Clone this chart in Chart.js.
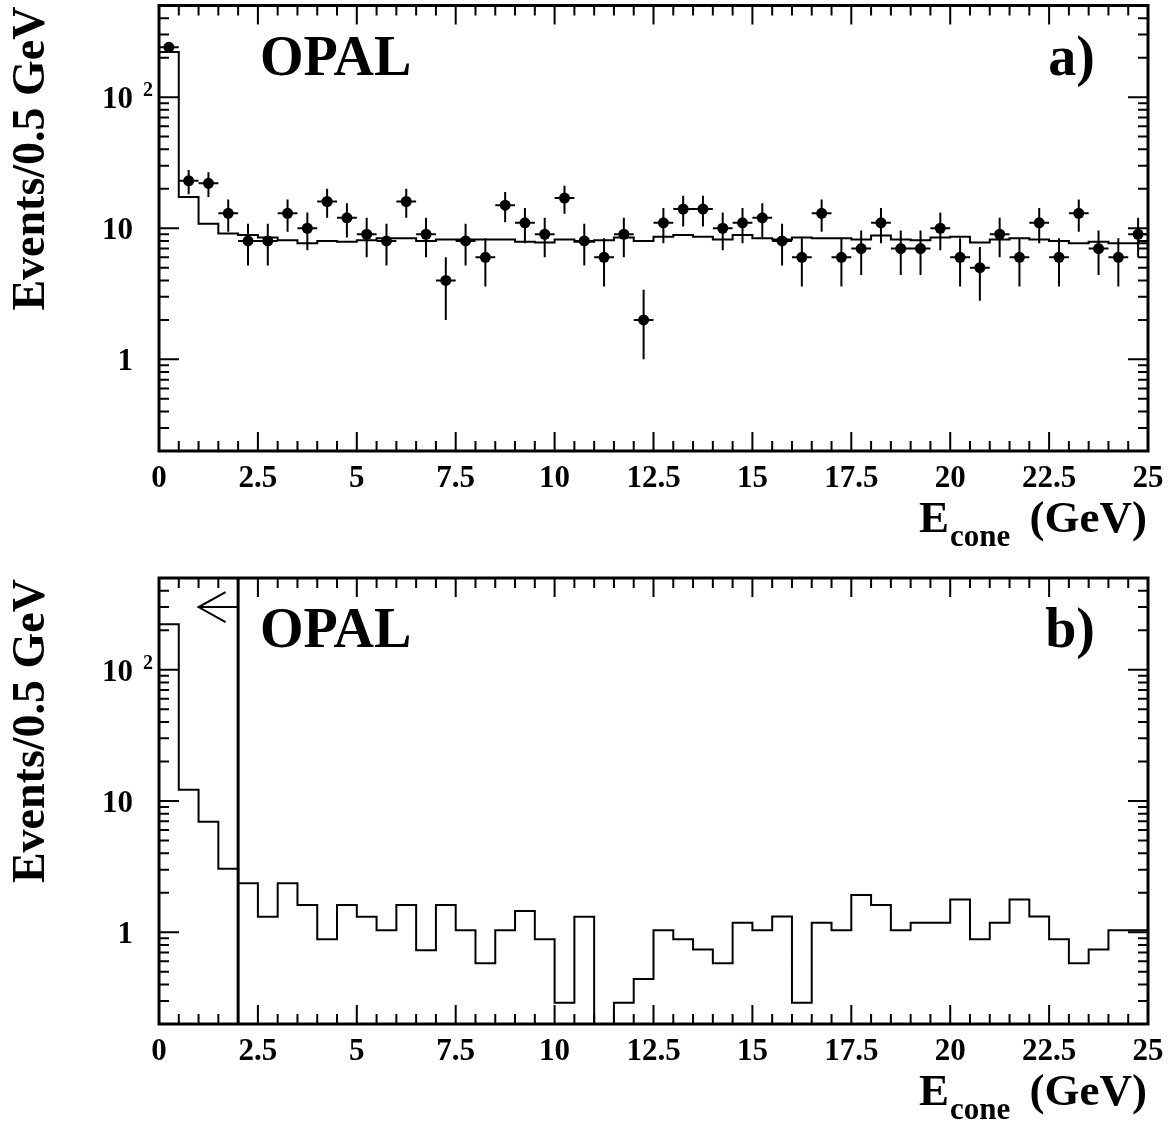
<!DOCTYPE html>
<html>
<head>
<meta charset="utf-8">
<script src="https://cdn.jsdelivr.net/npm/chart.js@4.4.1/dist/chart.umd.min.js"></script>
<style>
  body { margin: 0; background: #fff; }
  canvas { display: block; }
</style>
</head>
<body>
<canvas id="panelA" width="1169" height="564"></canvas>
<canvas id="panelB" width="1169" height="564"></canvas>
<script>
// bin edges of E_cone (GeV), 0.5 GeV bins
var binEdges = [0, 0.5, 1, 1.5, 2, 2.5, 3, 3.5, 4, 4.5, 5, 5.5, 6, 6.5, 7, 7.5, 8, 8.5, 9, 9.5,
  10, 10.5, 11, 11.5, 12, 12.5, 13, 13.5, 14, 14.5, 15, 15.5, 16, 16.5, 17, 17.5, 18, 18.5, 19, 19.5,
  20, 20.5, 21, 21.5, 22, 22.5, 23, 23.5, 24, 24.5, 25];

// panel a) data points
var dataA = [240, 23, 22, 13, 8, 8, 13, 10, 16, 12, 9, 8, 16, 9, 4, 8, 6, 15, 11, 9,
  17, 8, 6, 9, 2, 11, 14, 14, 10, 11, 12, 8, 6, 13, 6, 7, 11, 7, 7, 10,
  6, 5, 9, 6, 11, 6, 13, 7, 6, 9];
var errUpA = [15.5, 4.8, 4.7, 3.6, 2.8, 2.8, 3.6, 3.2, 4.0, 3.5, 3.0, 2.8, 4.0, 3.0, 2.0, 2.8, 2.4, 3.9, 3.3, 3.0,
  4.1, 2.8, 2.4, 3.0, 1.4, 3.3, 3.7, 3.7, 3.2, 3.3, 3.5, 2.8, 2.4, 3.6, 2.4, 2.6, 3.3, 2.6, 2.6, 3.2,
  2.4, 2.2, 3.0, 2.4, 3.3, 2.4, 3.6, 2.6, 2.4, 3.0];
var errDownA = [15.5, 4.8, 4.7, 3.6, 2.8, 2.8, 3.6, 3.2, 4.0, 3.5, 3.0, 2.8, 4.0, 3.0, 2.0, 2.8, 2.4, 3.9, 3.3, 3.0,
  4.1, 2.8, 2.4, 3.0, 1.0, 3.3, 3.7, 3.7, 3.2, 3.3, 3.5, 2.8, 2.4, 3.6, 2.4, 2.6, 3.3, 2.6, 2.6, 3.2,
  2.4, 2.2, 3.0, 2.4, 3.3, 2.4, 3.6, 2.6, 2.4, 3.0];

// panel a) simulation histogram
var mcA = [221, 17.3, 10.8, 9.1, 8.9, 8.5, 8.1, 7.7, 8.0, 7.9, 8.1, 8.4, 8.4, 8.0, 8.2, 8.2, 8.2, 8.2, 7.9, 7.8,
  8.2, 7.9, 8.1, 8.5, 8.0, 8.6, 8.9, 8.6, 8.2, 8.9, 8.4, 8.2, 8.5, 8.4, 8.4, 8.2, 8.8, 8.2, 8.1, 8.5,
  8.6, 7.8, 8.2, 8.4, 8.2, 8.0, 7.7, 7.9, 7.7, 7.7];

// panel b) histogram
var mcB = [222, 12.2, 6.95, 3.05, 2.36, 1.31, 2.36, 1.61, 0.885, 1.61, 1.31, 1.035, 1.61, 0.73, 1.61, 1.035, 0.58, 1.035, 1.45, 0.885,
  0.29, 1.31, 0, 0.29, 0.44, 1.035, 0.885, 0.74, 0.58, 1.18, 1.035, 1.32, 0.29, 1.18, 1.035, 1.92, 1.61, 1.035, 1.18, 1.18,
  1.78, 0.885, 1.18, 1.78, 1.32, 0.885, 0.58, 0.74, 1.035, 1.035];

// cut in panel b)
var cutValue = 2;
var arrowTip = 1;
var arrowLevel = 300;

var xTicks = [0, 2.5, 5, 7.5, 10, 12.5, 15, 17.5, 20, 22.5, 25];
var xTickLabels = ['0', '2.5', '5', '7.5', '10', '12.5', '15', '17.5', '20', '22.5', '25'];
var yTicks = [1, 10, 100];
var yTickLabels = [['1', ''], ['10', ''], ['10', '2']];

var serif = '"Liberation Serif", "Times New Roman", serif';

// empty bins can't sit on a log axis: push them below the frame, the line gets clipped
function histPoints(values) {
  return binEdges.map(function (e, i) {
    var v = values[Math.min(i, values.length - 1)];
    return { x: e, y: v > 0 ? v : 0.001 };
  });
}

function centrePoints(values) {
  return values.map(function (v, i) {
    return { x: (binEdges[i] + binEdges[i + 1]) / 2, y: v };
  });
}

var rootFrame = {
  id: 'rootFrame',
  beforeDatasetsDraw: function (chart, args, opts) {
    var ctx = chart.ctx, xs = chart.scales.x, ys = chart.scales.y;
    if (opts.points) {
      ctx.save();
      ctx.strokeStyle = '#000';
      ctx.lineWidth = 2;
      ctx.beginPath();
      opts.points.forEach(function (v, i) {
        var cx = xs.getPixelForValue((binEdges[i] + binEdges[i + 1]) / 2);
        var cy = ys.getPixelForValue(v);
        ctx.moveTo(xs.getPixelForValue(binEdges[i]), cy);
        ctx.lineTo(xs.getPixelForValue(binEdges[i + 1]), cy);
        ctx.moveTo(cx, ys.getPixelForValue(v + opts.errUp[i]));
        ctx.lineTo(cx, ys.getPixelForValue(v - opts.errDown[i]));
      });
      ctx.stroke();
      ctx.restore();
    }
  },
  afterDatasetsDraw: function (chart, args, opts) {
    var ctx = chart.ctx, a = chart.chartArea, xs = chart.scales.x, ys = chart.scales.y;
    ctx.save();
    ctx.strokeStyle = '#000';
    ctx.fillStyle = '#000';

    // cut line and arrow
    if (opts.cut) {
      var px = xs.getPixelForValue(cutValue);
      ctx.lineWidth = 3;
      ctx.beginPath();
      ctx.moveTo(px, a.top);
      ctx.lineTo(px, a.bottom);
      ctx.stroke();
      var tip = xs.getPixelForValue(arrowTip);
      var ay = ys.getPixelForValue(arrowLevel);
      ctx.lineWidth = 2;
      ctx.beginPath();
      ctx.moveTo(px, ay);
      ctx.lineTo(tip, ay);
      ctx.moveTo(tip + 27, ay - 15);
      ctx.lineTo(tip, ay);
      ctx.lineTo(tip + 27, ay + 15);
      ctx.stroke();
    }

    // ticks
    ctx.lineWidth = 2;
    ctx.beginPath();
    for (var k = 0; k <= 50; k++) {
      var v = k * 0.5;
      var tx = xs.getPixelForValue(v);
      var len = (k % 5 === 0) ? 19 : 10;
      ctx.moveTo(tx, a.bottom);
      ctx.lineTo(tx, a.bottom - len);
      ctx.moveTo(tx, a.top);
      ctx.lineTo(tx, a.top + len);
    }
    [0.1, 1, 10, 100].forEach(function (d) {
      for (var m = 1; m <= 9; m++) {
        var val = m * d;
        if (val < ys.min || val > ys.max) continue;
        var ty = ys.getPixelForValue(val);
        var l = (m === 1) ? 20 : 10;
        ctx.moveTo(a.left, ty);
        ctx.lineTo(a.left + l, ty);
        ctx.moveTo(a.right, ty);
        ctx.lineTo(a.right - l, ty);
      }
    });
    ctx.stroke();

    // frame
    ctx.lineWidth = 3;
    ctx.strokeRect(a.left, a.top, a.right - a.left, a.bottom - a.top);

    // x tick labels
    ctx.font = 'bold 31px ' + serif;
    ctx.textAlign = 'center';
    ctx.textBaseline = 'alphabetic';
    xTicks.forEach(function (t, i) {
      ctx.fillText(xTickLabels[i], xs.getPixelForValue(t), a.bottom + 36);
    });

    // y tick labels
    yTicks.forEach(function (t, i) {
      var ty = ys.getPixelForValue(t);
      ctx.font = 'bold 31px ' + serif;
      ctx.textAlign = 'right';
      ctx.fillText(yTickLabels[i][0], 133, ty + 11);
      if (yTickLabels[i][1]) {
        ctx.font = 'bold 20px ' + serif;
        ctx.textAlign = 'left';
        ctx.fillText(yTickLabels[i][1], 143, ty - 1);
      }
    });

    // axis titles
    ctx.font = 'bold 45px ' + serif;
    ctx.textAlign = 'right';
    ctx.fillText('(GeV)', 1147, a.bottom + 81);
    ctx.textAlign = 'left';
    ctx.fillText('E', 919, a.bottom + 81);
    ctx.font = 'bold 31px ' + serif;
    ctx.fillText('cone', 950, a.bottom + 95);

    ctx.save();
    ctx.translate(44, a.top + 1);
    ctx.rotate(-Math.PI / 2);
    ctx.font = 'bold 46px ' + serif;
    ctx.textAlign = 'right';
    ctx.fillText('Events/0.5 GeV', 0, 0);
    ctx.restore();

    // panel texts
    ctx.font = 'bold 56px ' + serif;
    ctx.textAlign = 'left';
    ctx.fillText('OPAL', 260, a.top + 69);
    ctx.textAlign = 'right';
    ctx.fillText(opts.label, 1095, a.top + 69);

    ctx.restore();
  }
};

function makePanel(id, datasets, padTop, padBottom, frameOpts) {
  return new Chart(id, {
    type: 'line',
    data: { datasets: datasets },
    options: {
      responsive: false,
      animation: false,
      devicePixelRatio: 1,
      layout: { padding: { left: 159, right: 21, top: padTop, bottom: padBottom } },
      plugins: {
        legend: { display: false },
        tooltip: { enabled: false },
        rootFrame: frameOpts
      },
      scales: {
        x: { type: 'linear', min: 0, max: 25, display: false },
        y: { type: 'logarithmic', min: 0.2, max: 500, display: false }
      }
    },
    plugins: [rootFrame]
  });
}

makePanel('panelA', [
  {
    label: 'MC',
    data: histPoints(mcA),
    stepped: 'before',
    borderColor: '#000',
    borderWidth: 2,
    pointRadius: 0,
    fill: false
  },
  {
    label: 'Data',
    data: centrePoints(dataA),
    showLine: false,
    pointRadius: 5.5,
    pointBackgroundColor: '#000',
    pointBorderColor: '#000',
    pointBorderWidth: 0
  }
], 4, 113, { label: 'a)', points: dataA, errUp: errUpA, errDown: errDownA });

makePanel('panelB', [
  {
    label: 'MC',
    data: histPoints(mcB),
    stepped: 'before',
    borderColor: '#000',
    borderWidth: 2,
    pointRadius: 0,
    fill: false
  }
], 14, 104, { label: 'b)', cut: true });
</script>
</body>
</html>
